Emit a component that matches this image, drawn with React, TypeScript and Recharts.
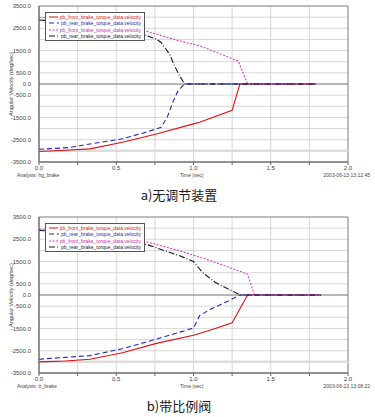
import { LineChart, Line, XAxis, YAxis, CartesianGrid, ReferenceLine, ReferenceArea } from 'recharts';

// chart a) 无调节装置
const aFrontTime = [0, 0.17, 0.33, 0.54, 0.76, 1.0, 1.04, 1.25, 1.3, 1.79];
const aFrontVel = [-3030, -2970, -2910, -2610, -2240, -1790, -1720, -1180, 0, 0];
const aRearTime = [0, 0.2, 0.33, 0.54, 0.7, 0.79, 0.83, 0.87, 0.9, 0.942, 1.79];
const aRearVel = [-2930, -2850, -2690, -2460, -2150, -1940, -1490, -750, -300, 0, 0];
const aFrontPosTime = [0, 0.2, 0.4, 0.7, 0.91, 1.04, 1.29, 1.35, 1.79];
const aFrontPosVel = [2990, 2930, 2780, 2360, 1930, 1715, 1030, 0, 0];
const aRearPosTime = [0, 0.2, 0.33, 0.54, 0.67, 0.76, 0.79, 0.845, 0.877, 0.91, 0.942, 1.79];
const aRearPosVel = [2870, 2800, 2680, 2450, 2230, 2015, 1865, 1340, 820, 370, 0, 0];

// chart b) 带比例阀
const bFrontTime = [0, 0.17, 0.33, 0.54, 0.76, 1.0, 1.107, 1.25, 1.35, 1.825];
const bFrontVel = [-3000, -2960, -2880, -2590, -2170, -1810, -1580, -1250, 0, 0];
const bRearTime = [0, 0.17, 0.33, 0.54, 0.76, 1.0, 1.04, 1.107, 1.16, 1.26, 1.3, 1.825];
const bRearVel = [-2880, -2800, -2720, -2410, -1980, -1480, -920, -650, -480, -150, 0, 0];
const bFrontPosTime = [0, 0.2, 0.4, 0.7, 0.91, 1.107, 1.35, 1.394, 1.825];
const bFrontPosVel = [2960, 2900, 2760, 2380, 1985, 1550, 940, 0, 0];
const bRearPosTime = [0, 0.2, 0.4, 0.7, 0.91, 1.0, 1.06, 1.14, 1.19, 1.29, 1.3, 1.825];
const bRearPosVel = [2900, 2820, 2650, 2260, 1760, 1500, 1000, 570, 390, 50, 0, 0];

const xTicks = [0, 0.25, 0.5, 0.75, 1.0, 1.25, 1.5, 1.75, 2.0];
const yLabelled = [3500, 2500, 1500, 500, 0, -500, -1500, -2500, -3500];
const yGrid = [-3500, -3000, -2500, -2000, -1500, -1000, -500, 0, 500, 1000, 1500, 2000, 2500, 3000, 3500];

const SERIES = [
  { name: 'pb_front_brake_torque_data.velocity', color: '#e01010', dash: undefined, text: '#d02020' },
  { name: 'pb_rear_brake_torque_data.velocity', color: '#2424c8', dash: '5 3', text: '#2a2ab0' },
  { name: 'pb_front_brake_torque_data.velocity', color: '#e040c0', dash: '2 1.5', text: '#c030b0' },
  { name: 'pb_rear_brake_torque_data.velocity', color: '#141438', dash: '6 2 1 2', text: '#202040' },
];

const zip = (t: number[], v: number[]) => t.map((x, i) => ({ t: x, v: v[i] }));

const FONT = '"Liberation Sans", Arial, sans-serif';

function LegendBox() {
  return (
    <div style={{ position: 'absolute', left: 45, top: 12, border: '1px solid #555', background: '#fff', padding: '1px 3px', width: 92 }}>
      {SERIES.map((s, i) => (
        <div key={i} style={{ display: 'flex', alignItems: 'center', height: 6.3 }}>
          <svg width={14} height={4} style={{ marginRight: 2 }}>
            <line x1={0} y1={2} x2={14} y2={2} stroke={s.color} strokeWidth={1} strokeDasharray={s.dash} />
          </svg>
          <span style={{ fontSize: 5, color: s.text, fontFamily: FONT, whiteSpace: 'nowrap' }}>{s.name}</span>
        </div>
      ))}
    </div>
  );
}

function Panel({ top, lines, analysis, stamp, caption }: {
  top: number;
  lines: { t: number; v: number }[][];
  analysis: string;
  stamp: string;
  caption: string;
}) {
  const tickStyle = { fontSize: 6, fill: '#444', fontFamily: FONT };
  return (
    <div style={{ position: 'absolute', left: 0, top, width: 375, height: 206 }}>
      <LineChart width={375} height={175} margin={{ top: 6, right: 27, bottom: 5, left: 0 }}>
        <CartesianGrid stroke="#cdcdcd" strokeWidth={0.8} />
        <XAxis
          dataKey="t" type="number" domain={[0, 2]} ticks={xTicks} height={8} interval={0}
          tickFormatter={(v: number) => (Math.abs(v * 2 - Math.round(v * 2)) < 1e-6 ? v.toFixed(1) : '')}
          tick={tickStyle} tickSize={3} tickMargin={1} stroke="#666" allowDuplicatedCategory={false}
        />
        <YAxis
          type="number" domain={[-3500, 3500]} ticks={yGrid} width={39} interval={0}
          tickFormatter={(v: number) => (yLabelled.includes(v) ? v.toFixed(1) : '')}
          tick={tickStyle} tickLine={false} tickMargin={2} stroke="#666"
          label={{ value: 'Angular Velocity (deg/sec)', angle: -90, position: 'insideLeft', offset: 11, style: { textAnchor: 'middle', fontSize: 5.5, fill: '#444', fontFamily: FONT } }}
        />
        <ReferenceArea x1={0} x2={2} y1={-3500} y2={3500} fill="none" stroke="#777" strokeWidth={0.8} />
        <ReferenceLine y={-3000} stroke="#dcdcdc" strokeWidth={2.5} />
        <ReferenceLine y={0} stroke="#777" strokeWidth={0.9} />
        {SERIES.map((s, i) => (
          <Line
            key={i} data={lines[i]} dataKey="v" name={s.name} type="linear" stroke={s.color}
            strokeWidth={1.1} strokeDasharray={s.dash} dot={false} isAnimationActive={false}
          />
        ))}
      </LineChart>
      <LegendBox />
      <div style={{ position: 'absolute', left: 17, top: 172, fontSize: 5, color: '#444', fontFamily: FONT }}>{analysis}</div>
      <div style={{ position: 'absolute', left: 180, top: 172, fontSize: 5, color: '#444', fontFamily: FONT }}>Time (sec)</div>
      <div style={{ position: 'absolute', right: 5, top: 172, fontSize: 5, color: '#444', fontFamily: FONT }}>{stamp}</div>
      <div style={{ position: 'absolute', left: 0, width: 358, top: 185, textAlign: 'center', fontSize: 13, color: '#222', fontFamily: '"Noto Sans CJK SC", sans-serif' }}>{caption}</div>
    </div>
  );
}

export default function App() {
  return (
    <div style={{ position: 'absolute', left: 0, top: 0, width: 375, height: 417, background: '#fff', overflow: 'hidden' }}>
      <Panel
        top={0}
        lines={[zip(aFrontTime, aFrontVel), zip(aRearTime, aRearVel), zip(aFrontPosTime, aFrontPosVel), zip(aRearPosTime, aRearPosVel)]}
        analysis="Analysis: hg_brake"
        stamp="2003-06-13 13:12:45"
        caption="a)无调节装置"
      />
      <Panel
        top={211}
        lines={[zip(bFrontTime, bFrontVel), zip(bRearTime, bRearVel), zip(bFrontPosTime, bFrontPosVel), zip(bRearPosTime, bRearPosVel)]}
        analysis="Analysis: tr_brake"
        stamp="2003-06-13 13:08:22"
        caption="b)带比例阀"
      />
    </div>
  );
}
